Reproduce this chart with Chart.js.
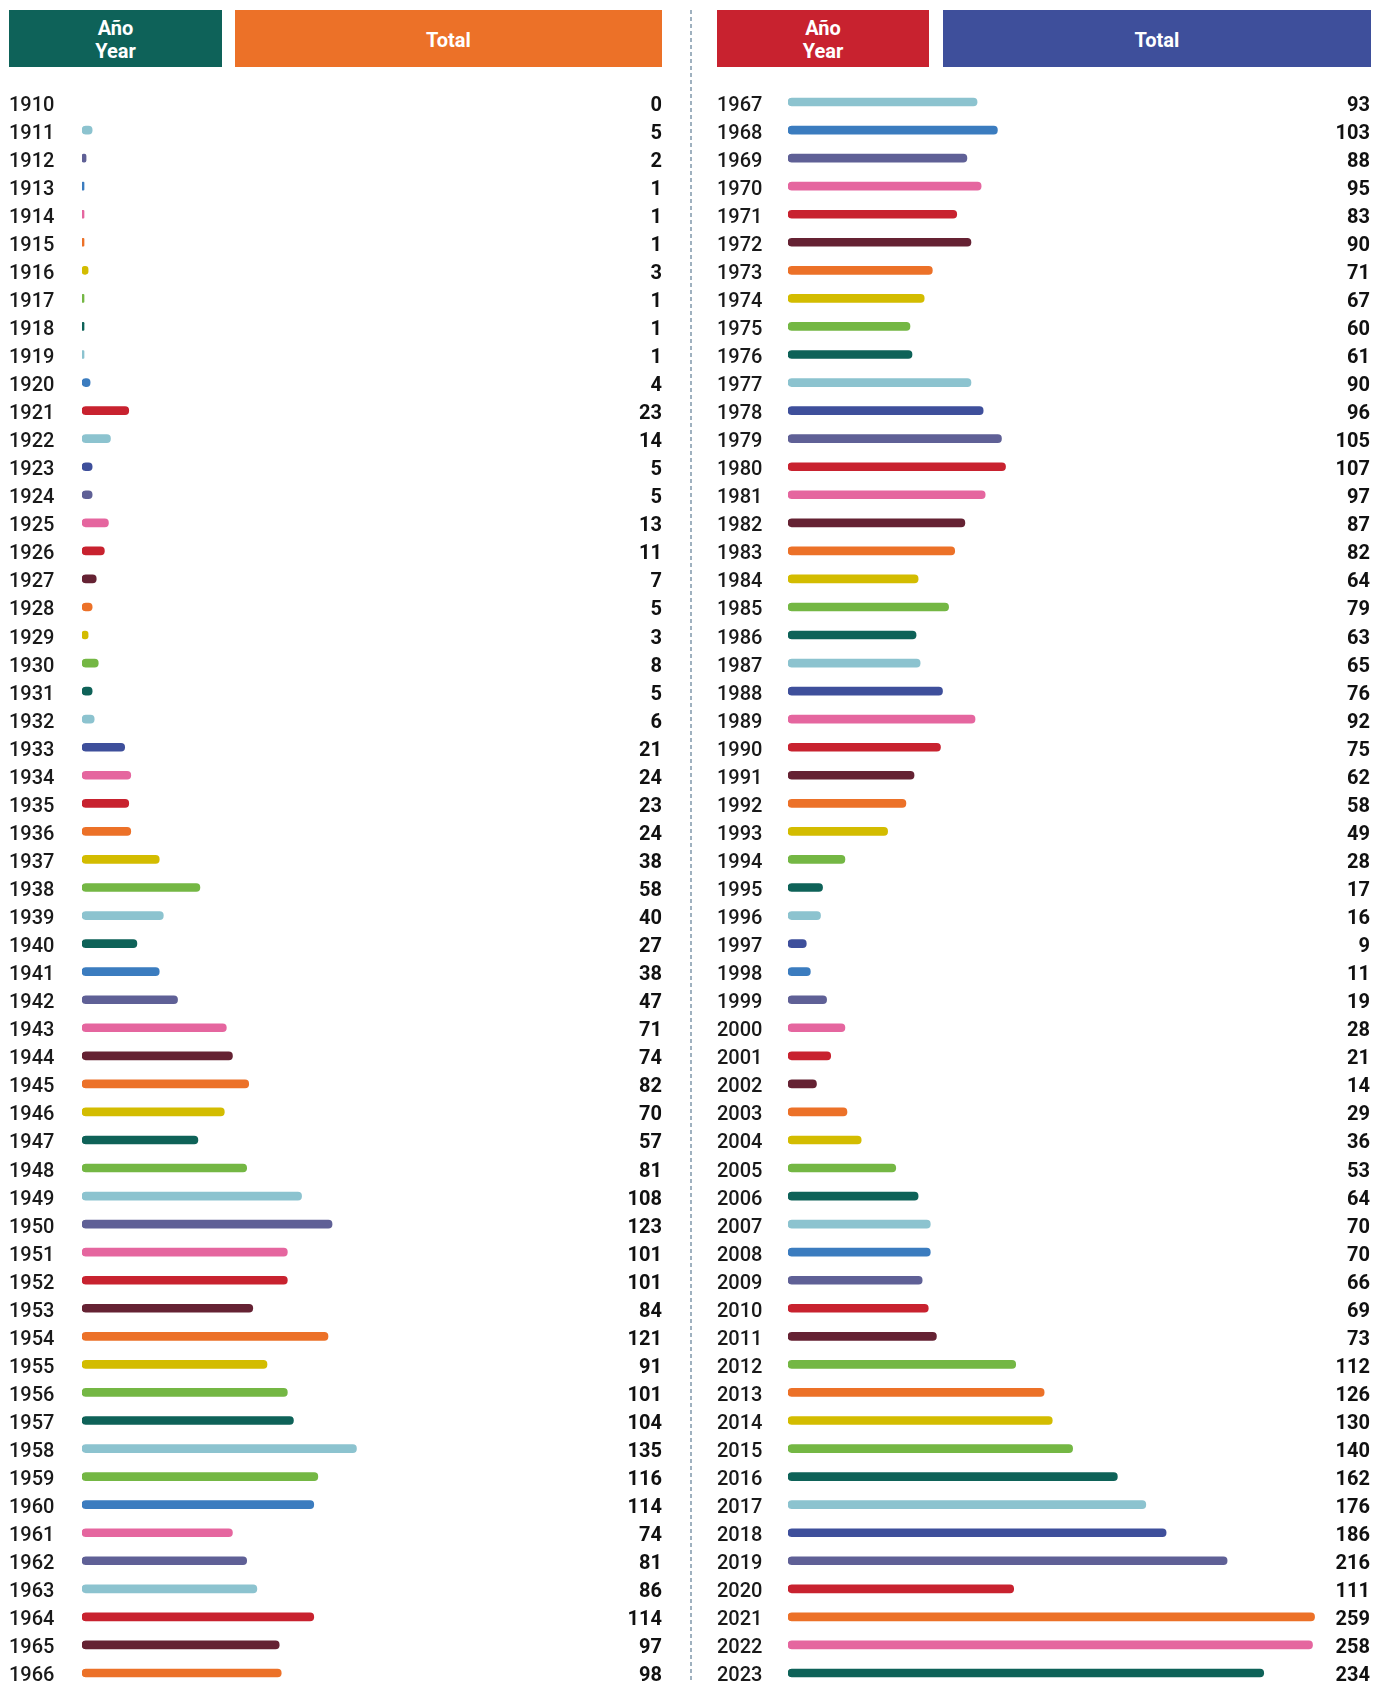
<!DOCTYPE html>
<html>
<head>
<meta charset="utf-8">
<script src="https://cdn.jsdelivr.net/npm/chart.js@4.4.1/dist/chart.umd.min.js"></script>
<style>
  html, body { margin: 0; padding: 0; background: #fff; overflow: hidden; width: 1384px; height: 1683px; }
  .hdr { position: absolute; top: 10px; height: 57px; box-sizing: border-box; padding-top: 3px; color: #fff; font-family: Roboto, sans-serif; font-weight: 700;
         font-size: 20px; line-height: 23px; display: flex; align-items: center; justify-content: center; text-align: center; }
  canvas { position: absolute; top: 0; }
  #divider { position: absolute; left: 690px; top: 10px; width: 2px; height: 1673px;
             background: repeating-linear-gradient(to bottom, #9fb1bf 0 4px, transparent 4px 7px); }
</style>
</head>
<body>
<div class="hdr" style="left:9px;width:213px;background:#0e6259;">Año<br>Year</div>
<div class="hdr" style="left:235px;width:427px;background:#ec7128;">Total</div>
<div class="hdr" style="left:717px;width:212px;background:#c8222f;">Año<br>Year</div>
<div class="hdr" style="left:943px;width:428px;background:#3e4f9b;">Total</div>
<div id="divider"></div>
<canvas id="left" width="662" height="1699" style="left:0px"></canvas>
<canvas id="right" width="662" height="1699" style="left:708px"></canvas>
<script>
// ---- data ----
const yearsLeft = ["1910","1911","1912","1913","1914","1915","1916","1917","1918","1919",
  "1920","1921","1922","1923","1924","1925","1926","1927","1928","1929",
  "1930","1931","1932","1933","1934","1935","1936","1937","1938","1939",
  "1940","1941","1942","1943","1944","1945","1946","1947","1948","1949",
  "1950","1951","1952","1953","1954","1955","1956","1957","1958","1959",
  "1960","1961","1962","1963","1964","1965","1966"];
const totalsLeft = [0,5,2,1,1,1,3,1,1,1,
  4,23,14,5,5,13,11,7,5,3,
  8,5,6,21,24,23,24,38,58,40,
  27,38,47,71,74,82,70,57,81,108,
  123,101,101,84,121,91,101,104,135,116,
  114,74,81,86,114,97,98];
const yearsRight = ["1967","1968","1969","1970","1971","1972","1973","1974","1975","1976",
  "1977","1978","1979","1980","1981","1982","1983","1984","1985","1986",
  "1987","1988","1989","1990","1991","1992","1993","1994","1995","1996",
  "1997","1998","1999","2000","2001","2002","2003","2004","2005","2006",
  "2007","2008","2009","2010","2011","2012","2013","2014","2015","2016",
  "2017","2018","2019","2020","2021","2022","2023"];
const totalsRight = [93,103,88,95,83,90,71,67,60,61,
  90,96,105,107,97,87,82,64,79,63,
  65,76,92,75,62,58,49,28,17,16,
  9,11,19,28,21,14,29,36,53,64,
  70,70,66,69,73,112,126,130,140,162,
  176,186,216,111,259,258,234];

// ---- styles ----
const C = {
  lb: '#8cc3cf', pu: '#5f6096', bl: '#3b7cbf', pk: '#e5669f', or: '#ec7128', ye: '#d3bc00',
  gr: '#74b744', te: '#0e6258', re: '#c8222f', nv: '#3e4f9b', ma: '#652233'
};
const colorKeysLeft = ['lb','lb','pu','bl','pk','or','ye','gr','te','lb',
  'bl','re','lb','nv','pu','pk','re','ma','or','ye',
  'gr','te','lb','nv','pk','re','or','ye','gr','lb',
  'te','bl','pu','pk','ma','or','ye','te','gr','lb',
  'pu','pk','re','ma','or','ye','gr','te','lb','gr',
  'bl','pk','pu','lb','re','ma','or'];
const colorKeysRight = ['lb','bl','pu','pk','re','ma','or','ye','gr','te',
  'lb','nv','pu','re','pk','ma','or','ye','gr','te',
  'lb','nv','pk','re','ma','or','ye','gr','te','lb',
  'nv','bl','pu','pk','re','ma','or','ye','gr','te',
  'lb','bl','pu','re','ma','gr','or','ye','gr','te',
  'lb','nv','pu','re','or','pk','te'];

const PX_PER_UNIT = 2.033;

function makeChart(id, years, totals, colorKeys, yAxisWidth) {
  const valueAxisWidth = 40;
  const canvasW = 662, padLeft = 9;
  const areaW = canvasW - padLeft - yAxisWidth - valueAxisWidth;
  const shifted = arr => (v, i) => ['', arr[i]];   // nudges label a few px below row centre
  return new Chart(document.getElementById(id), {
    type: 'bar',
    data: {
      labels: years,
      datasets: [{
        data: totals,
        backgroundColor: totals.map((v, i) => v === 0 ? 'rgba(0,0,0,0)' : C[colorKeys[i]]),
        barThickness: 8,
        borderRadius: 4,
        borderSkipped: false,
        borderWidth: 0
      }]
    },
    options: {
      indexAxis: 'y',
      responsive: false,
      animation: false,
      events: [],
      layout: { padding: { left: padLeft, right: 0, top: 88, bottom: 12 } },
      plugins: { legend: { display: false }, tooltip: { enabled: false }, title: { display: false } },
      scales: {
        x: {
          display: false,
          min: 0,
          max: areaW / PX_PER_UNIT
        },
        y: {
          type: 'category',
          position: 'left',
          offset: true,
          grid: { display: false, drawTicks: false },
          border: { display: false },
          afterFit: s => { s.width = yAxisWidth; },
          ticks: {
            autoSkip: false,
            crossAlign: 'far',
            padding: 0,
            color: '#1a1a1a',
            callback: shifted(years),
            font: { family: 'Roboto', size: 20, weight: '500', lineHeight: '7px' }
          }
        },
        y2: {
          type: 'category',
          position: 'right',
          offset: true,
          labels: totals.map(String),
          grid: { display: false, drawTicks: false },
          border: { display: false },
          afterFit: s => { s.width = valueAxisWidth; },
          ticks: {
            autoSkip: false,
            crossAlign: 'far',
            padding: 0,
            color: '#111',
            callback: shifted(totals.map(String)),
            font: { family: 'Roboto', size: 20, weight: '700', lineHeight: '7px' }
          }
        }
      }
    }
  });
}

makeChart('left', yearsLeft, totalsLeft, colorKeysLeft, 73);
makeChart('right', yearsRight, totalsRight, colorKeysRight, 71);
</script>
</body>
</html>
